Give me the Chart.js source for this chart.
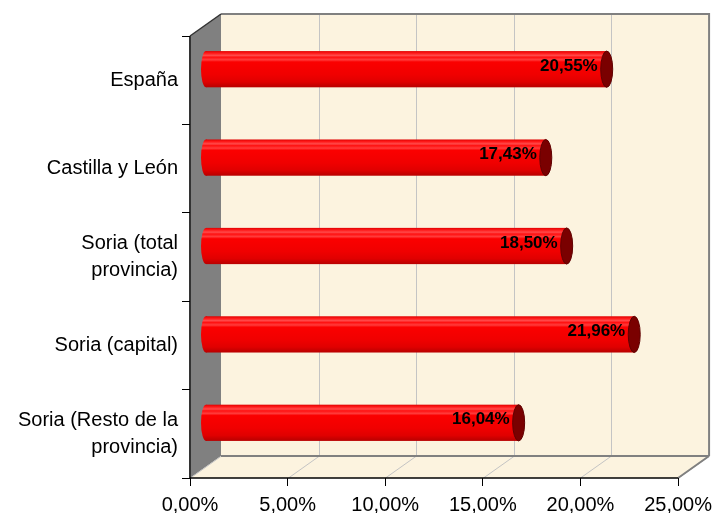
<!DOCTYPE html>
<html>
<head>
<meta charset="utf-8">
<script src="https://cdn.jsdelivr.net/npm/chart.js@4.4.1/dist/chart.umd.min.js"></script>
<style>
  html, body { margin: 0; padding: 0; background: #fff; }
  #wrap { width: 718px; height: 513px; position: relative; }
</style>
</head>
<body>
<div id="wrap"><canvas id="myChart"></canvas></div>
<script>
// data
const categories = ['España', 'Castilla y León', ['Soria (total', 'provincia)'], 'Soria (capital)', ['Soria (Resto de la', 'provincia)']];
const values = [20.55, 17.43, 18.50, 21.96, 16.04];
const xTicks = [0, 5, 10, 15, 20, 25];

// 3d look
const depth = { x: 31, y: -22 };
const beige = '#fcf3df';

function fmt(v) {
    return v.toFixed(2).replace('.', ',') + '%';
}

const box3d = {
    id: 'box3d',
    beforeDraw(chart) {
        const ctx = chart.ctx;
        const a = chart.chartArea;
        const xs = chart.scales.x;
        const L = a.left, R = a.right, T = a.top, B = a.bottom;
        const dx = depth.x, dy = depth.y;

        ctx.save();
        ctx.fillStyle = '#fff';
        ctx.fillRect(0, 0, chart.width, chart.height);

        // back wall
        ctx.fillStyle = beige;
        ctx.fillRect(L + dx, T + dy, R - L, B - T);
        // floor
        ctx.beginPath();
        ctx.moveTo(L, B); ctx.lineTo(R, B); ctx.lineTo(R + dx, B + dy); ctx.lineTo(L + dx, B + dy);
        ctx.closePath();
        ctx.fill();
        // left wall
        ctx.fillStyle = '#808080';
        ctx.beginPath();
        ctx.moveTo(L, T); ctx.lineTo(L + dx, T + dy); ctx.lineTo(L + dx, B + dy); ctx.lineTo(L, B);
        ctx.closePath();
        ctx.fill();

        // grid lines on wall and floor
        ctx.strokeStyle = '#c4c4c4';
        ctx.lineWidth = 1;
        xTicks.forEach(v => {
            const px = Math.round(xs.getPixelForValue(v)) + 0.5;
            ctx.beginPath();
            if (v > 0) {
                ctx.moveTo(px + dx, T + dy); ctx.lineTo(px + dx, B + dy);
            }
            ctx.moveTo(px, B); ctx.lineTo(px + dx, B + dy);
            ctx.stroke();
        });

        // frame
        ctx.strokeStyle = '#808080';
        ctx.lineWidth = 2;
        ctx.beginPath();
        ctx.moveTo(L + dx, T + dy); ctx.lineTo(R + dx, T + dy); ctx.lineTo(R + dx, B + dy);
        ctx.moveTo(L + dx, B + dy); ctx.lineTo(R + dx, B + dy);
        ctx.moveTo(R, B); ctx.lineTo(R + dx, B + dy);
        ctx.stroke();

        ctx.strokeStyle = '#333';
        ctx.lineWidth = 1.5;
        ctx.beginPath();
        ctx.moveTo(L, T); ctx.lineTo(L + dx, T + dy);
        ctx.stroke();
        ctx.lineWidth = 2;
        ctx.beginPath();
        ctx.moveTo(L, T); ctx.lineTo(L, B);
        ctx.stroke();
        ctx.strokeStyle = '#000';
        ctx.lineWidth = 1.5;
        ctx.beginPath();
        ctx.moveTo(L, B); ctx.lineTo(R, B);
        ctx.stroke();
        ctx.restore();
    },
    afterDatasetsDraw(chart) {
        const ctx = chart.ctx;
        const meta = chart.getDatasetMeta(0);
        const hx = depth.x / 2, hy = depth.y / 2;

        ctx.save();
        ctx.translate(hx, hy);
        meta.data.forEach((bar, i) => {
            const p = bar.getProps(['x', 'y', 'base', 'height'], true);
            const top = p.y - p.height / 2;
            const h = p.height;
            const g = ctx.createLinearGradient(0, top, 0, top + h);
            g.addColorStop(0, '#e00000');
            g.addColorStop(0.06, '#ff1a1a');
            g.addColorStop(0.12, '#ff4a4a');
            g.addColorStop(0.17, '#ff1010');
            g.addColorStop(0.24, '#ff3c3c');
            g.addColorStop(0.3, '#fb0000');
            g.addColorStop(0.65, '#f00000');
            g.addColorStop(0.85, '#e00000');
            g.addColorStop(1, '#b80000');

            // body + rounded start
            ctx.fillStyle = g;
            ctx.beginPath();
            ctx.ellipse(p.base, p.y, 5, h / 2, 0, 0, Math.PI * 2);
            ctx.fill();
            ctx.fillRect(p.base, top, p.x - p.base, h);

            // end cap
            ctx.fillStyle = '#7a0000';
            ctx.strokeStyle = '#600000';
            ctx.lineWidth = 1;
            ctx.beginPath();
            ctx.ellipse(p.x, p.y, 6, h / 2, 0, 0, Math.PI * 2);
            ctx.fill();
            ctx.stroke();

            // value label
            ctx.fillStyle = '#000';
            ctx.font = 'bold 17px "Liberation Sans", Arial, sans-serif';
            ctx.textAlign = 'right';
            ctx.textBaseline = 'middle';
            ctx.fillText(fmt(values[i]), p.x - 9, p.y - 3);
        });
        ctx.restore();
    }
};

const tickFont = { family: '"Liberation Sans", Arial, sans-serif', size: 20, lineHeight: 1.35 };

var ctx = document.getElementById('myChart').getContext('2d');
var myChart = new Chart(ctx, {
    type: 'bar',
    data: {
        labels: categories,
        datasets: [{
            data: values,
            backgroundColor: 'rgba(0,0,0,0)',
            borderWidth: 0,
            categoryPercentage: 1,
            barPercentage: 0.41
        }]
    },
    options: {
        indexAxis: 'y',
        responsive: true,
        maintainAspectRatio: false,
        animation: false,
        layout: { padding: { top: 36, right: 35, left: 0, bottom: 0 } },
        plugins: { legend: { display: false }, tooltip: { enabled: false } },
        scales: {
            x: {
                min: 0,
                max: 25,
                afterFit(s) { s.height = 35; },
                afterBuildTicks(s) { s.ticks = xTicks.map(v => ({ value: v })); },
                ticks: { color: '#000', font: tickFont, padding: 6, maxRotation: 0, callback: v => fmt(v) },
                grid: { drawOnChartArea: false, color: '#000', tickLength: 8 },
                border: { display: false }
            },
            y: {
                afterFit(s) { s.width = 190; },
                ticks: { color: '#000', font: tickFont, padding: 4 },
                grid: { drawOnChartArea: false, color: '#000', tickLength: 8, offset: true },
                border: { display: false }
            }
        }
    },
    plugins: [box3d]
});
</script>
</body>
</html>
